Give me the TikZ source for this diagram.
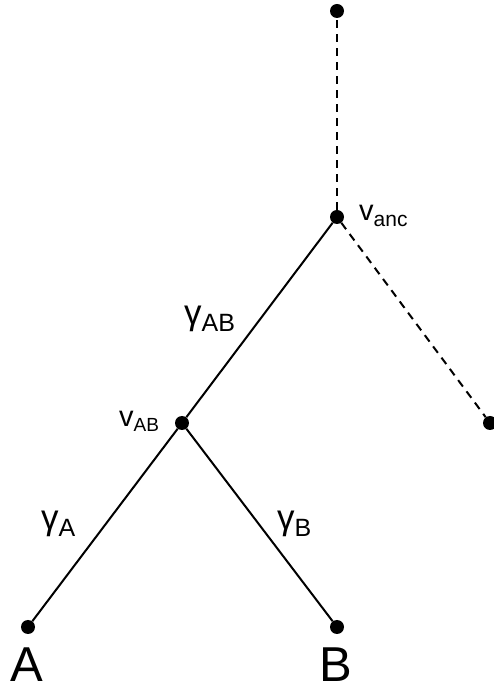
\documentclass[tikz,border=0pt]{standalone}
\usepackage{fontspec}
\setmainfont{Liberation Sans}
\newcommand{\fs}[1]{\fontsize{#1}{#1}\selectfont}
\begin{document}
\begin{tikzpicture}[x=1pt,y=1pt,
  dot/.style={circle,fill=black,inner sep=0pt,minimum size=14pt},
  branch/.style={line width=2pt},
  hidden/.style={line width=2pt,dash pattern=on 8pt off 6pt},
  lbl/.style={inner sep=0pt,anchor=base west},
  leaf/.style={inner sep=0pt,anchor=base,font=\fs{49}}]
\useasboundingbox (0,0) rectangle (494,689);

% tree vertices
\node[dot] (top)   at (337,678) {};
\node[dot] (anc)   at (337,472) {};
\node[dot] (right) at (490,266) {};
\node[dot] (vab)   at (182,266) {};
\node[dot] (a)     at (28,62)   {};
\node[dot] (b)     at (337,62)  {};

% branches
\draw[hidden] (anc) -- (top);
\draw[hidden] (anc) -- (right);
\draw[branch] (anc) -- (vab);
\draw[branch] (vab) -- (a);
\draw[branch] (vab) -- (b);

% vertex labels
\node[lbl] (lanc) at (359,468) {\fs{29}v\raisebox{-6pt}{\fs{21}anc}};
\node[lbl] (lvab) at (119,262) {\fs{29}v\raisebox{-5pt}{\fs{19}AB}};

% branch lengths
\node[lbl] (gab) at (184,364) {\fs{35}γ\raisebox{-7pt}{\fs{25}AB}};
\node[lbl] (ga)  at (41,159)  {\fs{35}γ\raisebox{-7pt}{\fs{25}A}};
\node[lbl] (gb)  at (277,159) {\fs{35}γ\raisebox{-7pt}{\fs{25}B}};

% leaf names
\node[leaf] (la) at (27,8)  {A};
\node[leaf] (lb) at (336,8) {B};
\end{tikzpicture}
\end{document}
